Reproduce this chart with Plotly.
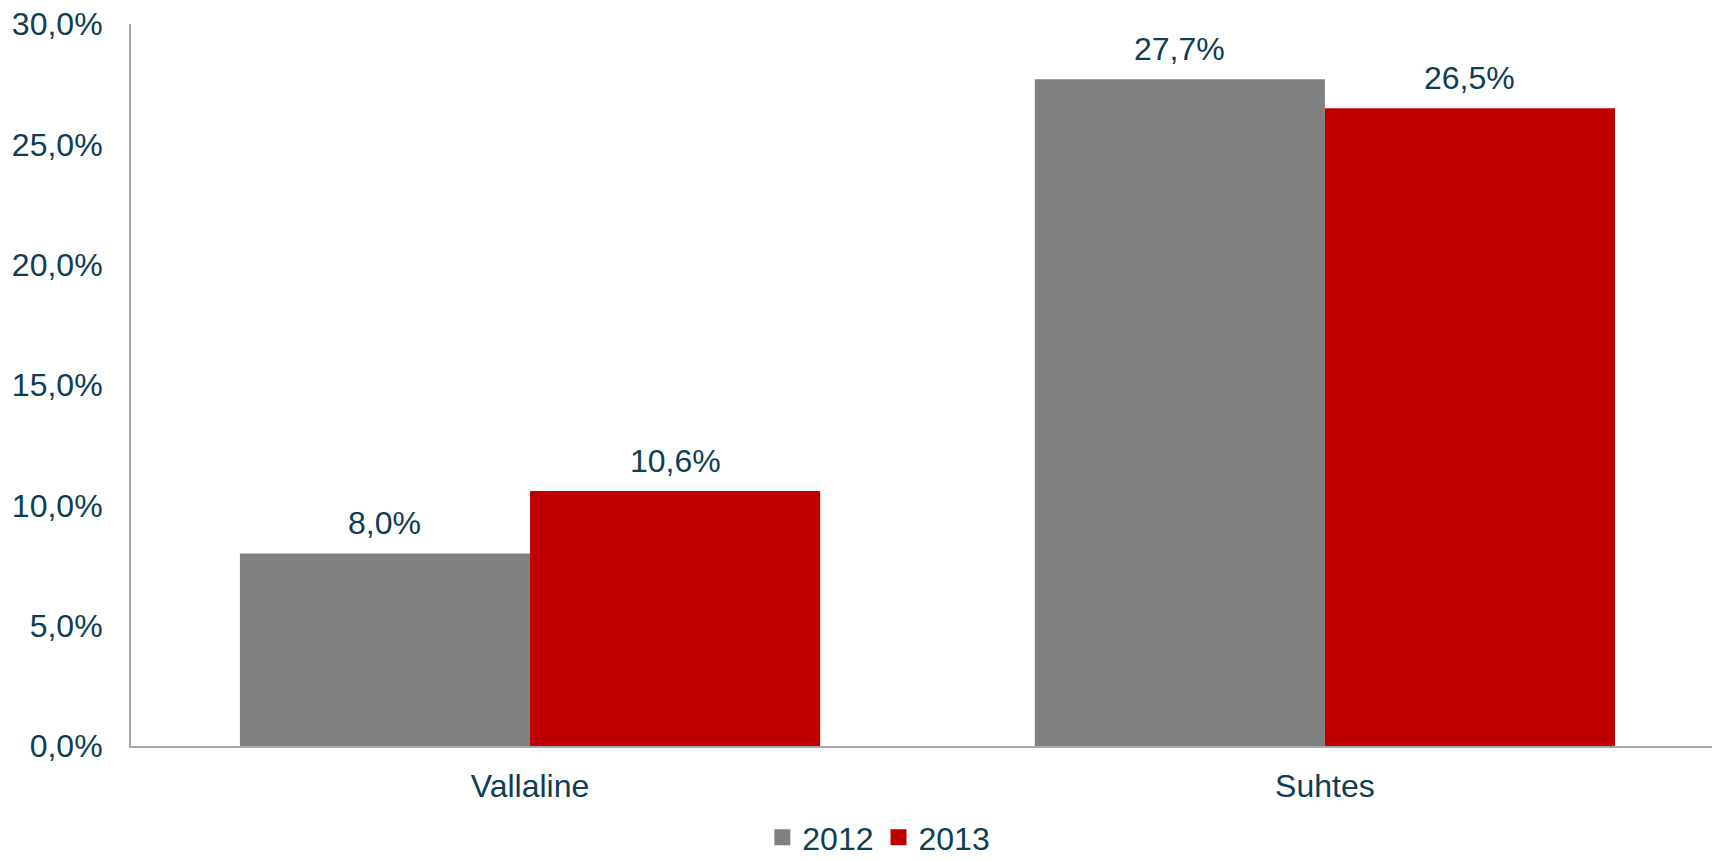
import plotly.graph_objects as go

categories = ["Vallaline", "Suhtes"]
years = ["2012", "2013"]
values_2012 = [8.0, 27.7]
values_2013 = [10.6, 26.5]
y_ticks = [0, 5, 10, 15, 20, 25, 30]
y_tick_labels = ["0,0%", "5,0%", "10,0%", "15,0%", "20,0%", "25,0%", "30,0%"]

colors = ["#808080", "#C00000"]
text_color = "#0E3D56"
font_family = "Liberation Sans, Arial, sans-serif"
FS = 32
BARGAP = 0.27

fig = go.Figure()
series = [values_2012, values_2013]
for name, vals, col in zip(years, series, colors):
    fig.add_trace(go.Bar(x=categories, y=vals, name=name, marker=dict(color=col, line=dict(width=0)),
                         showlegend=False))
# legend entries with larger square swatches
for name, col in zip(years, colors):
    fig.add_trace(go.Scatter(x=[None], y=[None], name=name, mode="markers",
                             marker=dict(symbol="square", size=17, color=col)))

half = (1 - BARGAP) / 4
for i, cat in enumerate(categories):
    for j, vals in enumerate(series):
        off = -half if j == 0 else half
        fig.add_annotation(x=i + off, y=vals[i], xref="x", yref="y",
                           text=f"{vals[i]:.1f}".replace(".", ",") + "%",
                           showarrow=False, yanchor="bottom", yshift=10,
                           font=dict(size=FS, color=text_color, family=font_family))

fig.update_layout(
    width=1712, height=860,
    margin=dict(l=131, r=0, t=24, b=114, autoexpand=False),
    paper_bgcolor="white", plot_bgcolor="white",
    barmode="group", bargap=BARGAP, bargroupgap=0,
    font=dict(family=font_family, size=FS, color=text_color),
    showlegend=True,
    legend=dict(orientation="h", x=0.473, xanchor="center", y=-0.1648, yanchor="bottom",
                font=dict(size=FS, color=text_color), itemwidth=30, tracegroupgap=0,
                bgcolor="rgba(0,0,0,0)"),
    xaxis=dict(range=[-0.502, 1.487], showline=True, linecolor="#A3A8AD", linewidth=2,
               ticks="", showgrid=False, zeroline=False, ticklabelstandoff=11, automargin=False,
               tickfont=dict(size=FS, color=text_color)),
    yaxis=dict(range=[0, 30], showline=True, linecolor="#A3A8AD", linewidth=2,
               tickvals=y_ticks, ticktext=y_tick_labels, ticks="", showgrid=False,
               zeroline=False, ticklabelstandoff=20, automargin=False,
               tickfont=dict(size=FS, color=text_color)),
)

fig.write_html("out.html", config={"displayModeBar": False},
               post_script="document.body.style.margin='0';document.body.style.overflow='hidden';")
